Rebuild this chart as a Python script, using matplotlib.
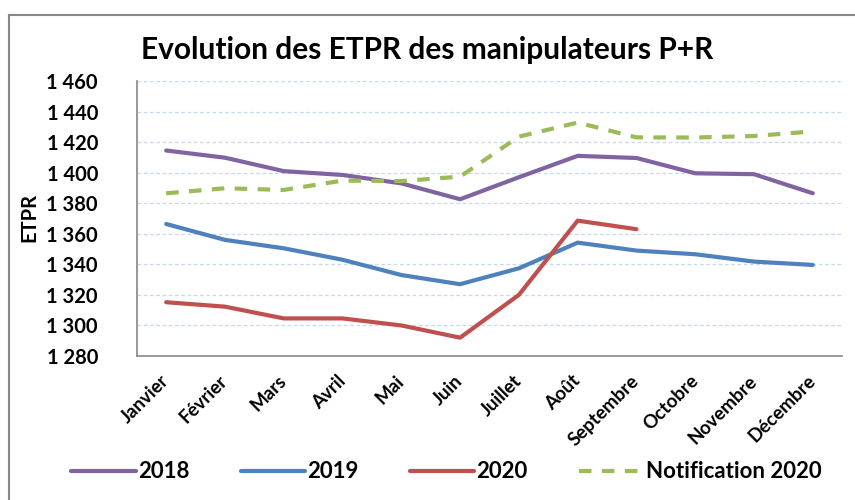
import matplotlib
matplotlib.use("Agg")
import matplotlib.pyplot as plt
from matplotlib.lines import Line2D
from matplotlib.ticker import FuncFormatter

plt.rcParams['font.family'] = ['Lato', 'DejaVu Sans']

mois = ['Janvier', 'Février', 'Mars', 'Avril', 'Mai', 'Juin', 'Juillet',
        'Août', 'Septembre', 'Octobre', 'Novembre', 'Décembre']
etpr_2018 = [1414.5, 1409.8, 1401, 1398.5, 1393, 1382.6, 1397, 1411, 1409.6, 1399.6, 1399, 1386.5]
etpr_2019 = [1366.4, 1356, 1350.5, 1343, 1333, 1327, 1337.4, 1354.2, 1349, 1346.6, 1341.8, 1339.6]
etpr_2020 = [1315.2, 1312.3, 1304.6, 1304.6, 1300, 1292, 1320, 1368.6, 1363]
notif_2020 = [1386.5, 1389.8, 1388.7, 1394.8, 1394.5, 1397.4, 1423.6, 1432.8, 1423.1, 1423, 1424, 1427]

fig = plt.figure(figsize=(8.55, 5.0), dpi=100)
ax = fig.add_axes([0.160, 0.288, 0.825, 0.550])

x = range(len(mois))
l1, = ax.plot(x, etpr_2018, color='#8064A2', lw=3, solid_capstyle='round', label='2018')
l2, = ax.plot(x, etpr_2019, color='#4F81BD', lw=3, solid_capstyle='round', label='2019')
l3, = ax.plot(range(len(etpr_2020)), etpr_2020, color='#C0504D', lw=3, solid_capstyle='round', label='2020')
l4, = ax.plot(x, notif_2020, color='#9BBB59', lw=3, ls=(0, (3, 2.5)), label='Notification 2020')

ax.set_xlim(-0.5, 11.5)
ax.set_ylim(1280, 1460)
ax.set_yticks(range(1280, 1461, 20))
ax.yaxis.set_major_formatter(FuncFormatter(lambda v, p: '{:,}'.format(int(v)).replace(',', ' ')))
ax.set_xticks(list(x))
ax.set_xticklabels(mois, rotation=45, ha='right', va='center', rotation_mode='anchor',
                   fontweight='bold', fontsize=13.5)
for lab in ax.get_yticklabels():
    lab.set_fontweight('bold')
    lab.set_fontsize(14.5)
ax.tick_params(axis='x', length=0, pad=16)
ax.tick_params(axis='y', length=0, pad=28)

ax.grid(axis='y', color='#C6D9F1', ls=(0, (3, 2)), lw=0.9)
ax.set_axisbelow(True)
for s in ['top', 'right']:
    ax.spines[s].set_visible(False)
for s in ['left', 'bottom']:
    ax.spines[s].set_color('#868686')
    ax.spines[s].set_linewidth(1.2)

ax.set_ylabel('ETPR', fontweight='bold', fontsize=14.5)
ax.yaxis.set_label_coords(-0.138, 0.505)

fig.text(0.500, 0.900, 'Evolution des ETPR des manipulateurs P+R', ha='center', va='center',
         fontsize=21.5, fontweight='bold')

fig.legend(handles=[l1, l2, l3, l4], loc='center', bbox_to_anchor=(0.522, 0.056), ncol=4,
           frameon=False, handlelength=2.9, handletextpad=0.1, columnspacing=2.3,
           prop={'weight': 'bold', 'size': 16})

# cadre du graphique
fig.add_artist(Line2D([9 / 855, 9 / 855], [0, 1 - 15 / 500], color='#888888', lw=1.5))
fig.add_artist(Line2D([9 / 855, 1], [1 - 15 / 500, 1 - 15 / 500], color='#888888', lw=1.5))

fig.savefig('out.png', dpi=100)
